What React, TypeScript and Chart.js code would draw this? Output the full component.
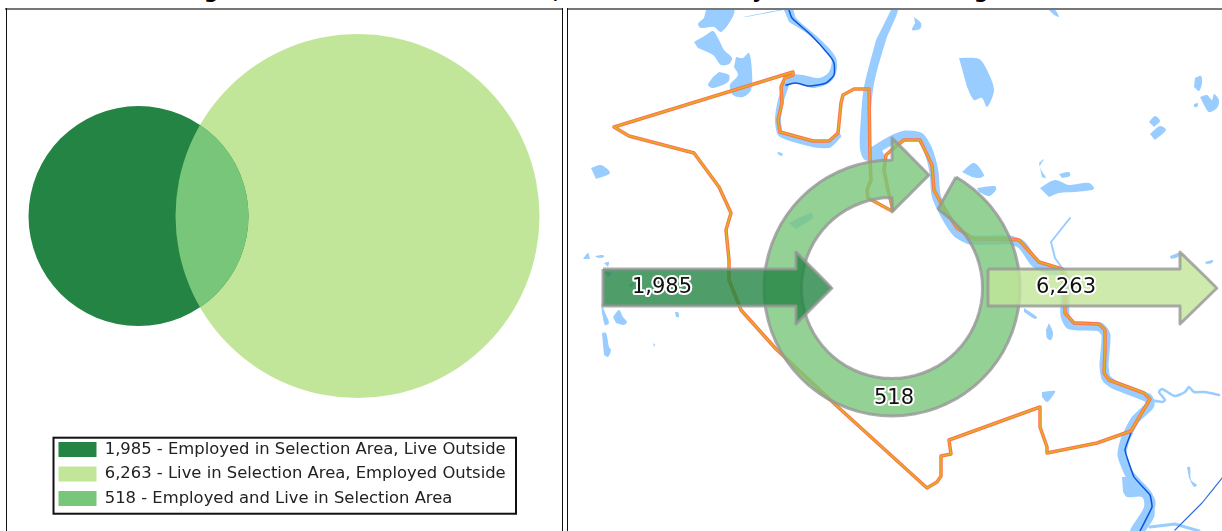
import React, { useEffect, useRef } from "react";
import { Chart, registerables } from "chart.js";

Chart.register(...registerables);

type Pt = [number, number];

// ---- Venn panel ----
const vennLabels = [
  "1,985 - Employed in Selection Area, Live Outside",
  "6,263 - Live in Selection Area, Employed Outside",
  "518 - Employed and Live in Selection Area",
];
const vennColors = ["#238443", "#c2e699", "#78c679"];
const vennX = [138.5, 357.5];
const vennY = [216, 216];
const vennR = [110, 182];

// ---- Flow panel ----
const flowLabels = ["1,985", "6,263", "518"];
const flowLabelX = [662, 1066, 894];
const flowLabelY = [288, 288, 399];

const inflowArrow: Pt[] = [[603, 269], [796, 269], [796, 252], [832, 288], [796, 324], [796, 306], [603, 306], [603, 269]];
const outflowArrow: Pt[] = [[988, 269], [1180, 269], [1180, 252], [1217, 288], [1180, 324], [1180, 306], [988, 306], [988, 269]];
const ringArrow: Pt[] = [
  [956, 177.1], [965.4, 183.1], [974.3, 189.9], [982.5, 197.5], [990.1, 205.7], [996.9, 214.6], [1002.9, 224], [1008, 233.9],
  [1012.3, 244.2], [1015.6, 254.9], [1018.1, 265.8], [1019.5, 276.8], [1020, 288], [1019.5, 299.2], [1018.1, 310.2],
  [1015.6, 321.1], [1012.3, 331.8], [1008, 342.1], [1002.9, 352], [996.9, 361.4], [990.1, 370.3], [982.5, 378.5],
  [974.3, 386.1], [965.4, 392.9], [956, 398.9], [946.1, 404], [935.8, 408.3], [925.1, 411.6], [914.2, 414.1], [903.2, 415.5],
  [892, 416], [880.8, 415.5], [869.8, 414.1], [858.9, 411.6], [848.2, 408.3], [837.9, 404], [828, 398.9], [818.6, 392.9],
  [809.7, 386.1], [801.5, 378.5], [793.9, 370.3], [787.1, 361.4], [781.1, 352], [776, 342.1], [771.7, 331.8], [768.4, 321.1],
  [765.9, 310.2], [764.5, 299.2], [764, 288], [764.5, 276.8], [765.9, 265.8], [768.4, 254.9], [771.7, 244.2], [776, 233.9],
  [781.1, 224], [787.1, 214.6], [793.9, 205.7], [801.5, 197.5], [809.7, 189.9], [818.6, 183.1], [828, 177.1], [837.9, 172],
  [848.2, 167.7], [858.9, 164.4], [869.8, 161.9], [880.8, 160.5], [892, 160],
  [892, 138], [929, 175], [892, 212], [892, 197.5],
  [884.1, 197.8], [876.3, 198.9], [868.6, 200.6], [861, 203], [853.8, 206], [846.7, 209.6], [840.1, 213.9], [833.8, 218.7],
  [828, 224], [822.7, 229.8], [817.9, 236.1], [813.6, 242.7], [810, 249.8], [807, 257], [804.6, 264.6], [802.9, 272.3],
  [801.8, 280.1], [801.5, 288], [801.8, 295.9], [802.9, 303.7], [804.6, 311.4], [807, 319], [810, 326.2], [813.6, 333.3],
  [817.9, 339.9], [822.7, 346.2], [828, 352], [833.8, 357.3], [840.1, 362.1], [846.7, 366.4], [853.8, 370], [861, 373],
  [868.6, 375.4], [876.3, 377.1], [884.1, 378.2], [892, 378.5], [899.9, 378.2], [907.7, 377.1], [915.4, 375.4], [923, 373],
  [930.2, 370], [937.3, 366.4], [943.9, 362.1], [950.2, 357.3], [956, 352], [961.3, 346.2], [966.1, 339.9], [970.4, 333.3],
  [974, 326.2], [977, 319], [979.4, 311.4], [981.1, 303.7], [982.2, 295.9], [982.5, 288], [982.2, 280.1], [981.1, 272.3],
  [979.4, 264.6], [977, 257], [974, 249.8], [970.4, 242.7], [966.1, 236.1], [961.3, 229.8], [956, 224], [950.2, 218.7],
  [944, 213.9], [938, 209], [956, 177.1],
];

const boundary: Pt[] = [
  [793, 72], [793, 75], [785, 78], [781, 87], [782, 103], [778, 120], [780, 132], [813, 141], [829, 141], [838, 133],
  [841, 103], [843, 95], [854, 89], [869, 89], [870, 157], [871, 180], [867, 190], [868, 198], [890, 210], [893, 210],
  [888, 190], [884, 170], [886, 155], [895, 147], [904, 140], [920, 140], [932, 165], [934, 190], [942, 205], [957, 228],
  [974, 239], [1005, 239], [1019, 240], [1039, 262], [1062, 269], [1065, 293], [1065, 313], [1074, 323], [1099, 324],
  [1105, 330], [1105, 350], [1104, 373], [1109, 380], [1144, 393], [1150, 399], [1131, 431], [1097, 443], [1047, 453],
  [1047, 447], [1040, 427], [1040, 407], [949, 440], [951, 454], [941, 456], [941, 476], [937, 482], [927, 488],
  [839, 408], [776, 349], [741, 310], [729, 280], [729, 260], [726, 230], [731, 213], [719, 187], [694, 153], [629, 136],
  [614, 127], [793, 72],
];

const lakes: Pt[][] = [
  [[706, 10], [734, 10], [731, 20], [721, 32], [714, 27], [701, 28], [698, 24], [704, 18]],
  [[694, 42], [706, 35], [713, 31], [719, 40], [724, 50], [732, 58], [729, 64], [721, 65], [713, 55], [698, 48]],
  [[736, 57], [743, 58], [749, 53], [752, 72], [751, 90], [743, 97], [733, 95], [730, 85], [738, 75], [734, 67]],
  [[719, 72], [729, 75], [728, 82], [713, 88], [708, 85], [713, 77]],
  [[743, 17], [779, 10], [783, 10], [746, 17]],
  [[784, 10], [793, 10], [796, 18], [823, 42], [836, 58], [836, 73], [829, 83], [813, 88], [796, 83], [786, 85], [789, 75], [803, 75], [819, 78], [829, 72], [831, 58], [809, 35], [789, 22]],
  [[891, 10], [898, 10], [886, 40], [873, 90], [871, 146], [880, 148], [885, 160], [865, 160], [860, 148], [861, 117], [864, 87], [876, 40]],
  [[959, 58], [979, 59], [987, 70], [994, 90], [987, 107], [982, 98], [974, 100], [967, 87]],
  [[914, 17], [921, 23], [920, 29], [912, 30], [915, 23]],
  [[1049, 10], [1055, 10], [1059, 17], [1054, 15]],
  [[1195, 78], [1201, 76], [1202, 83], [1199, 91], [1194, 87]],
  [[1200, 97], [1207, 95], [1212, 100], [1214, 94], [1219, 100], [1217, 108], [1209, 112], [1204, 105]],
  [[1194, 104], [1198, 103], [1197, 107], [1194, 107]],
  [[1149, 122], [1155, 116], [1160, 121], [1154, 127]],
  [[1150, 134], [1160, 126], [1166, 130], [1155, 140]],
  [[962, 172], [974, 163], [984, 175], [980, 178], [972, 177]],
  [[977, 188], [995, 186], [996, 190], [989, 196], [979, 192]],
  [[1039, 163], [1044, 159], [1040, 167], [1046, 178], [1042, 177]],
  [[1059, 174], [1069, 172], [1070, 176], [1062, 178]],
  [[1040, 188], [1055, 180], [1069, 185], [1089, 183], [1094, 189], [1075, 192], [1059, 193], [1049, 197]],
  [[1170, 256], [1179, 253], [1178, 257], [1171, 259]],
  [[1205, 262], [1213, 260], [1212, 263], [1206, 264]],
  [[1024, 308], [1037, 317], [1035, 319], [1024, 312]],
  [[1049, 323], [1053, 333], [1051, 340], [1047, 338], [1046, 330]],
  [[789, 223], [811, 213], [813, 218], [796, 229]],
  [[591, 168], [601, 165], [610, 173], [596, 179]],
  [[583, 259], [588, 253], [590, 259]],
  [[595, 256], [603, 255], [604, 257], [598, 258]],
  [[604, 263], [609, 262], [608, 267]],
  [[601, 302], [604, 310], [609, 323], [605, 325], [602, 313]],
  [[613, 317], [619, 310], [623, 317], [627, 322], [624, 325], [616, 323]],
  [[602, 333], [606, 333], [609, 347], [611, 350], [608, 357], [604, 355]],
  [[675, 312], [678, 312], [679, 317], [676, 317]],
  [[653, 343], [655, 345], [654, 347]],
  [[604, 272], [612, 273], [608, 277]],
  [[628, 285], [634, 283], [632, 287]],
  [[779, 152], [783, 154], [781, 156], [777, 153]],
  [[1042, 392], [1055, 391], [1052, 397], [1047, 402], [1042, 397]],
  [[1187, 467], [1190, 467], [1191, 480], [1197, 485], [1194, 487], [1189, 478]],
  [[1122, 477], [1134, 477], [1154, 497], [1155, 507], [1140, 530], [1130, 531], [1144, 507], [1142, 497], [1127, 497], [1123, 492]],
];

const wideRiver: Pt[] = [
  [875, 150], [890, 141], [905, 135], [920, 137], [928, 150], [934, 172], [936, 195], [945, 215], [957, 233], [970, 240],
  [1010, 240], [1022, 245], [1035, 263], [1050, 270], [1062, 272], [1066, 285], [1065, 300], [1065, 315], [1070, 325],
  [1100, 327], [1106, 335], [1104, 365], [1106, 378], [1115, 385], [1148, 398], [1150, 405], [1135, 420], [1125, 440],
  [1122, 455], [1130, 475], [1148, 495], [1150, 515], [1140, 531],
];
const sideChannel: Pt[] = [[786, 85], [781, 100], [778, 120], [781, 134], [813, 144], [829, 145], [838, 136]];
const tributary: Pt[] = [[1070, 218], [1051, 242], [1055, 258], [1062, 268]];
const squiggle: Pt[] = [[1150, 400], [1162, 402], [1165, 400], [1159, 392], [1162, 389], [1175, 396], [1185, 392], [1189, 387], [1194, 392], [1205, 392], [1219, 395]];
const bottomStream: Pt[] = [[1150, 527], [1175, 524], [1199, 531]];
const northRiver: Pt[] = [[789, 10], [792, 18], [811, 35], [829, 55], [834, 63], [834, 75], [826, 83], [809, 86], [796, 83], [786, 85]];
const southRiver: Pt[] = [[1131, 433], [1125, 450], [1134, 477], [1150, 495], [1152, 507], [1140, 531]];
const eastRiver: Pt[] = [[1222, 478], [1202, 503], [1175, 530]];

// Only the descenders of the cropped heading are visible in the picture.
const headingGlyphs = ["g", ",", "y", "g"];
const headingX = [204, 553, 752, 974];

const WATER = "#99ccff";
const RIVER = "#0b55dd";
const GREY = "rgba(150,150,150,0.8)";

const toXY = (pts: Pt[]) => pts.map(([x, y]) => ({ x, y }));
const area = (pts: Pt[], color: string, tension = 0.3, border = "transparent", width = 0) => ({
  data: toXY(pts), showLine: true, fill: "shape", backgroundColor: color, borderColor: border, borderWidth: width,
  tension, pointRadius: 0, borderJoinStyle: "round",
});
const stroke = (pts: Pt[], color: string, width: number, tension = 0.001) => ({
  data: toXY(pts), showLine: true, fill: false, borderColor: color, backgroundColor: color, borderWidth: width,
  tension, pointRadius: 0, borderJoinStyle: "round", borderCapStyle: "round",
});

const hiddenScale = (min: number, max: number, reverse = false) => ({
  type: "linear", min, max, reverse, display: false,
});

const lensClip = {
  id: "lensClip",
  beforeDatasetDraw(chart: any, args: any) {
    if (args.index !== 2) return;
    const { x, y } = chart.scales;
    const { ctx } = chart;
    ctx.save();
    ctx.beginPath();
    ctx.arc(x.getPixelForValue(vennX[1]), y.getPixelForValue(vennY[1]), vennR[1], 0, Math.PI * 2);
    ctx.clip();
  },
  afterDatasetDraw(chart: any, args: any) {
    if (args.index === 2) chart.ctx.restore();
  },
};

const legendBox = {
  id: "legendBox",
  beforeDraw(chart: any) {
    const { x, y } = chart.scales;
    const lg = chart.legend;
    const pad = lg.options.labels.padding;
    lg.left = x.getPixelForValue(58.5) - pad;
    lg.top = y.getPixelForValue(441) - pad;
    lg.right = lg.left + 490;
    lg.bottom = lg.top + 90;
    const { ctx } = chart;
    const l = x.getPixelForValue(53.5), t = y.getPixelForValue(437.5);
    const r = x.getPixelForValue(516), b = y.getPixelForValue(513.5);
    ctx.save();
    ctx.fillStyle = "#fff";
    ctx.strokeStyle = "#111";
    ctx.lineWidth = 2;
    ctx.fillRect(l, t, r - l, b - t);
    ctx.strokeRect(l, t, r - l, b - t);
    ctx.restore();
  },
};

const haloLabels = {
  id: "haloLabels",
  afterDatasetsDraw(chart: any) {
    const { x, y } = chart.scales;
    const { ctx } = chart;
    ctx.save();
    ctx.font = "21px 'DejaVu Sans'";
    ctx.textAlign = "center";
    ctx.textBaseline = "middle";
    ctx.lineJoin = "round";
    flowLabels.forEach((t, i) => {
      const px = x.getPixelForValue(flowLabelX[i]);
      const py = y.getPixelForValue(flowLabelY[i]);
      ctx.strokeStyle = "#fff";
      ctx.lineWidth = 4;
      ctx.strokeText(t, px, py);
      ctx.fillStyle = "#111";
      ctx.fillText(t, px, py);
    });
    ctx.restore();
  },
};

export default function App() {
  const leftRef = useRef<HTMLCanvasElement>(null);
  const rightRef = useRef<HTMLCanvasElement>(null);

  useEffect(() => {
    const base = { responsive: false, animation: false, events: [] as string[], layout: { padding: 0, autoPadding: false } };

    const left = new Chart(leftRef.current!, {
      type: "bubble",
      data: {
        datasets: [
          { label: vennLabels[0], data: [{ x: vennX[0], y: vennY[0], r: vennR[0] }], backgroundColor: vennColors[0], borderWidth: 0, hoverRadius: 0 },
          { label: vennLabels[1], data: [{ x: vennX[1], y: vennY[1], r: vennR[1] }], backgroundColor: vennColors[1], borderWidth: 0, hoverRadius: 0 },
          { label: vennLabels[2], data: [{ x: vennX[0], y: vennY[0], r: vennR[0] }], backgroundColor: vennColors[2], borderWidth: 0, hoverRadius: 0, order: -1 },
        ],
      } as any,
      options: {
        ...base,
        // the legend reserves the bottom of the canvas, so the y range stops where the plot area ends
        scales: { x: hiddenScale(7, 562), y: hiddenScale(10, 447.3, true) } as any,
        plugins: {
          tooltip: { enabled: false },
          legend: {
            position: "bottom",
            align: "start",
            labels: {
              boxWidth: 38,
              boxHeight: 15,
              padding: 8.1,
              color: "#222",
              font: { family: "'DejaVu Sans'", size: 16.4 },
              sort: (a: any, b: any) => a.datasetIndex - b.datasetIndex,
            },
          },
        },
      } as any,
      plugins: [lensClip, legendBox],
    });

    const layers: any[] = [
      ...lakes.map((l) => area(l, WATER)),
      stroke(wideRiver, WATER, 9, 0.2),
      stroke(sideChannel, WATER, 6, 0.2),
      stroke(tributary, WATER, 2),
      stroke(squiggle, WATER, 2.5, 0.2),
      stroke(bottomStream, WATER, 3),
      stroke(northRiver, RIVER, 1.5, 0.2),
      stroke(southRiver, RIVER, 1.5, 0.1),
      stroke(eastRiver, "#2a6fe0", 1.2),
      stroke(boundary, "#ff7050", 3.5),
      stroke(boundary, "#e0b020", 1.6),
      area(ringArrow, "rgba(120,198,121,0.8)", 0.001, GREY, 3),
      area(inflowArrow, "rgba(35,132,67,0.8)", 0.001, GREY, 3),
      area(outflowArrow, "rgba(194,230,153,0.8)", 0.001, GREY, 3),
    ];
    const right = new Chart(rightRef.current!, {
      type: "scatter",
      data: { datasets: layers.map((d, i) => ({ ...d, order: -i })) },
      options: {
        ...base,
        scales: { x: hiddenScale(568, 1222), y: hiddenScale(10, 531, true) } as any,
        plugins: { legend: { display: false }, tooltip: { enabled: false } },
      } as any,
      plugins: [haloLabels],
    });

    return () => {
      left.destroy();
      right.destroy();
    };
  }, []);

  const page: React.CSSProperties = { position: "absolute", left: 0, top: 0, width: 1222, height: 531, overflow: "hidden", background: "#fff" };
  const canvas: React.CSSProperties = { position: "absolute", display: "block" };
  return (
    <div style={page}>
      {headingGlyphs.map((g, i) => (
        <span key={i} style={{ position: "absolute", left: headingX[i], top: -19, font: "bold 20px/1 'DejaVu Sans'", color: "#000" }}>{g}</span>
      ))}
      <div style={{ position: "absolute", left: 5, top: 8, width: 557, height: 2, background: "#777" }} />
      <div style={{ position: "absolute", left: 567, top: 8, width: 655, height: 2, background: "#777" }} />
      <div style={{ position: "absolute", left: 5.5, top: 8, width: 1.5, height: 523, background: "#111" }} />
      <div style={{ position: "absolute", left: 561.5, top: 8, width: 1.5, height: 523, background: "#111" }} />
      <div style={{ position: "absolute", left: 566.5, top: 8, width: 1.5, height: 523, background: "#111" }} />
      <canvas ref={leftRef} width={555} height={521} style={{ ...canvas, left: 7, top: 10 }} />
      <canvas ref={rightRef} width={654} height={521} style={{ ...canvas, left: 568, top: 10 }} />
    </div>
  );
}
